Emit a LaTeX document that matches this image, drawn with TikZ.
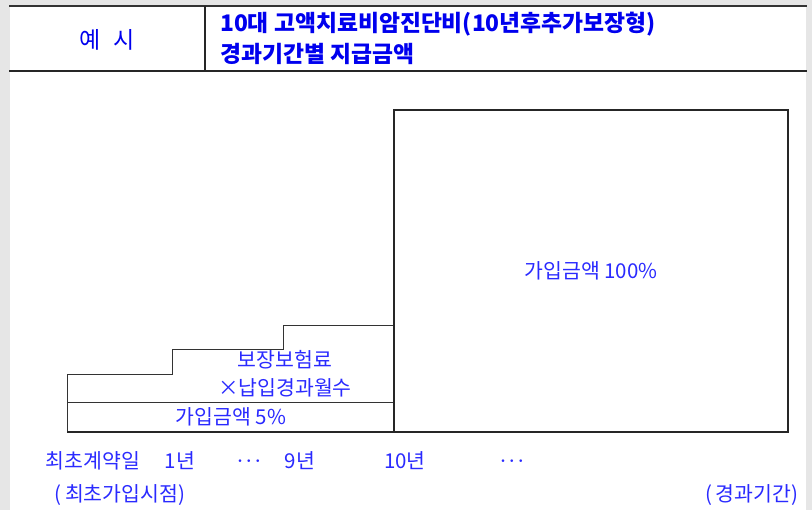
\documentclass[tikz,border=0pt]{standalone}
\usepackage{fontspec}
\newfontfamily\kr{Noto Sans CJK KR}
\usetikzlibrary{positioning}
\definecolor{bgray}{HTML}{E6E6E6}
\definecolor{lblue}{HTML}{2A2AFF}
\definecolor{tblue}{HTML}{0000EE}

\begin{document}
\begin{tikzpicture}[x=1pt, y=-1pt,
  lbl/.style={font=\kr\fontsize{20.5}{28}\selectfont, text=lblue, inner sep=0pt, align=center},
  ttl/.style={font=\kr\bfseries\fontsize{22.8}{31}\selectfont, text=tblue, inner sep=0pt, align=left},
  dots/.style={font=\fontsize{18}{18}\selectfont\boldmath, text=lblue, inner sep=0pt},
  rule/.style={line width=1.2pt, draw=black!85},
  thin/.style={line width=1pt, draw=black!80}
]
% page
\fill[bgray] (0,0) rectangle (812,510);
\fill[white] (10,5) rectangle (806,510);

% header
\draw[line width=2pt, draw=black!80] (9,6) -- (807,6);
\draw[rule] (9,71) -- (807,71);
\draw[rule] (205,6) -- (205,71);
\node[lbl, font=\kr\fontsize{23}{24}\selectfont, text=tblue] (ex) at (107,40) {예\hspace{0.55em}시};
\node[ttl, anchor=west] (title) at (220,38)
  {10대 고액치료비암진단비(10년후추가보장형)\\경과기간별 지급금액};

% steps and box
\draw[thin] (67,432) -- (67,375) -- (172,375) -- (172,350) -- (283,350)
  -- (283,326) -- (394,326);
\draw[thin] (67,403) -- (394,403);
\draw[rule] (394,432) -- (394,110) -- (788,110) -- (788,432) -- (67,432);

\node[lbl] (prem) at (285,374) {보장보험료\\×납입경과월수};
\node[lbl] (five) at (231,417) {가입금액 5\%};
\node[lbl] (full) at (591,271) {가입금액 100\%};

% axis
\node[lbl] (t0)  at (93,461)  {최초계약일};
\node[lbl] (t1)  at (180,461) {1년};
\node[dots] (d1) at (249,461) {$\cdots$};
\node[lbl] (t9)  at (300,461) {9년};
\node[lbl] (t10) at (405,461) {10년};
\node[dots] (d2) at (512,461) {$\cdots$};
\node[lbl] (t0b) at (120,495) {(\,최초가입시점)};
\node[lbl] (per) at (752,495) {(\,경과기간)};
\end{tikzpicture}
\end{document}
